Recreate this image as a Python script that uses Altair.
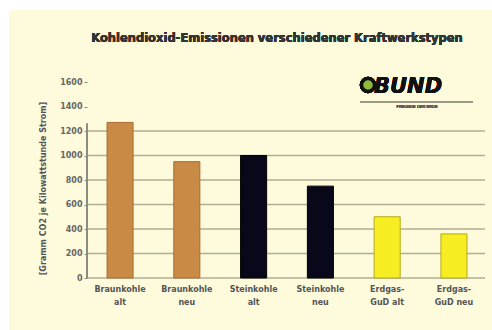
import altair as alt
import pandas as pd

categories = ["Braunkohle|alt", "Braunkohle|neu", "Steinkohle|alt",
              "Steinkohle|neu", "Erdgas-|GuD alt", "Erdgas-|GuD neu"]
values = [1270, 950, 1000, 750, 500, 360]
fuel = ["Braunkohle", "Braunkohle", "Steinkohle", "Steinkohle", "Erdgas", "Erdgas"]
fuel_names = ["Braunkohle", "Steinkohle", "Erdgas"]
fuel_colors = ["#c98a45", "#08081a", "#f6ee22"]
fuel_strokes = ["#a86c30", "#000000", "#b8a818"]
y_ticks = [0, 200, 400, 600, 800, 1000, 1200, 1400, 1600]
grid_values = [0, 200, 400, 600, 800, 1000, 1200]

W, H = 400, 196
FONT = "DejaVu Sans"
df = pd.DataFrame({"cat": categories, "value": values, "fuel": fuel})
grid_df = pd.DataFrame({"g": grid_values})

yaxis = alt.Axis(values=y_ticks, format="d", grid=False, domain=False, tickSize=3,
                 tickColor="#8a8a80", labelPadding=2, labelFontSize=8,
                 labelFontWeight="bold", labelColor="#666666",
                 labelFont=FONT, labelOverlap=False, labelBound=False, zindex=2,
                 title="[Gramm CO2 je Kilowattstunde Strom]",
                 titleFontSize=8, titleFontWeight="bold", titleColor="#555555",
                 titleFont=FONT, titleX=-44, titleY=106,
                 titleAngle=270, titleAlign="center", titleBaseline="middle")

xenc = alt.X("cat:N", sort=categories, title=None,
             scale=alt.Scale(paddingInner=0.61, paddingOuter=0.3),
             axis=alt.Axis(labelExpr="split(datum.label, '|')", labelAngle=0,
                           labelFontSize=8, labelFontWeight="bold", labelColor="#555555",
                           labelFont=FONT, labelLineHeight=13, labelPadding=7,
                           labelOverlap=False, labelBound=False,
                           ticks=False, domain=False, zindex=2))
yscale = alt.Scale(domain=[0, 1600])

bg = alt.Chart(df).mark_rect(color="#fdfbdc").encode(
    x=alt.value(-78), x2=alt.value(405), y=alt.value(-72), y2=alt.value(248))

grid = alt.Chart(grid_df).mark_rule(color="#b0ae96", strokeWidth=1.3).encode(
    y=alt.Y("g:Q", scale=yscale, axis=yaxis), x=alt.value(0), x2=alt.value(W - 2))

vline = alt.Chart(df).mark_rule(color="#8a8a80", strokeWidth=1).encode(
    x=alt.value(0), y=alt.datum(0, scale=yscale, axis=yaxis), y2=alt.datum(1260))

bars = alt.Chart(df).mark_bar(strokeWidth=1).encode(
    x=xenc,
    y=alt.Y("value:Q", scale=yscale, axis=yaxis),
    color=alt.Color("fuel:N", scale=alt.Scale(domain=fuel_names, range=fuel_colors), legend=None),
    stroke=alt.Stroke("fuel:N", scale=alt.Scale(domain=fuel_names, range=fuel_strokes), legend=None),
)

title = alt.Chart(df).mark_text(text="Kohlendioxid-Emissionen verschiedener Kraftwerkstypen",
                                 font=FONT, fontSize=11.5, fontWeight="bold",
                                 color="#333333", align="center", baseline="middle").encode(
    x=alt.value(190), y=alt.value(-43))

logo_ring = alt.Chart(df).mark_point(shape="circle", size=170, filled=True, fill="#8dbb3c",
                                     stroke="#111111", strokeWidth=3.5, opacity=1).encode(
    x=alt.value(281), y=alt.value(3))
logo_text = alt.Chart(df).mark_text(text="BUND", font="DejaVu Sans", fontSize=21,
                                    fontWeight="bold", fontStyle="italic", color="#111111",
                                    align="left", baseline="alphabetic").encode(
    x=alt.value(287), y=alt.value(11))
logo_line = alt.Chart(df).mark_rule(color="#999988", strokeWidth=1).encode(
    x=alt.value(273), x2=alt.value(386), y=alt.value(20))
logo_small = alt.Chart(df).mark_text(text="FREUNDE DER ERDE", font="Liberation Sans", fontSize=4,
                                     color="#555555", align="center").encode(
    x=alt.value(330), y=alt.value(25))

chart = alt.layer(bg, grid, vline, bars, title, logo_ring, logo_text, logo_line, logo_small).properties(
    width=W, height=H,
    autosize=alt.AutoSizeParams(type="none"),
    padding={"left": 87, "top": 82, "right": 5, "bottom": 52},
    background="#ffffff",
).configure_view(strokeWidth=0)

chart.save("out.html", embed_options={"renderer": "svg", "actions": False})
